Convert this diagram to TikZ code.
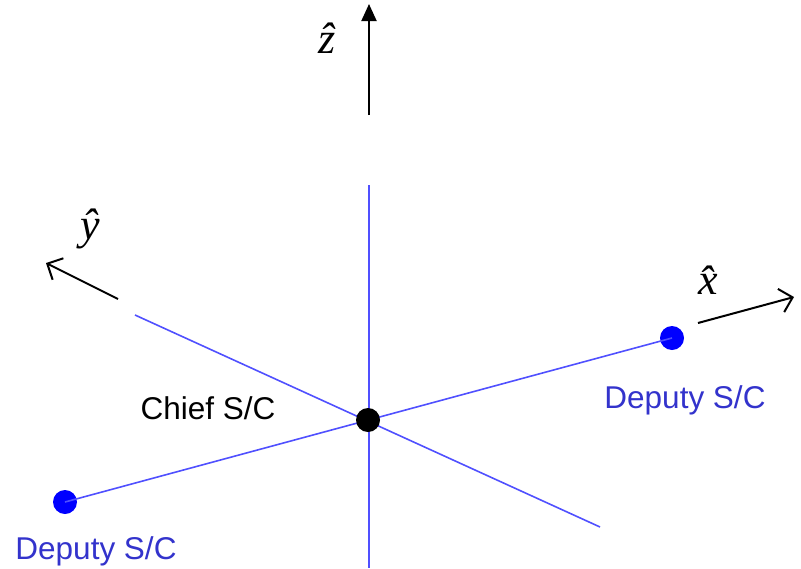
\documentclass[tikz,border=0pt]{standalone}
\usepackage{fontspec}
\setmainfont{Liberation Serif}
\setsansfont{Liberation Sans}
\usetikzlibrary{arrows.meta}
\definecolor{axisblue}{RGB}{80,80,255}
\definecolor{labelblue}{RGB}{51,51,204}
\tikzset{
  axisline/.style={draw=axisblue, line width=1.6pt},
  craft/.style={circle, inner sep=0pt, minimum size=24pt},
  unitvec/.style={draw=black, line width=2pt},
  openhead/.style={-{Straight Barb[length=12pt,width=24pt,line width=2pt]}},
  hatlabel/.style={font=\rmfamily\itshape\fontsize{44}{44}\selectfont, inner sep=0pt},
  sclabel/.style={font=\sffamily\fontsize{31.5}{31.5}\selectfont},
}
\begin{document}
\begin{tikzpicture}[x=1pt, y=-1pt]
  \useasboundingbox (0,0) rectangle (801,568);

  % spacecraft positions
  \coordinate (chiefpos) at (368,420);
  \coordinate (zlow) at (369,185);
  \coordinate (zbottom) at (369,568);
  \coordinate (ystart) at (135,315);
  \coordinate (yend) at (600,527);

  % blue axis lines through the chief
  \draw[axisline] (zlow) -- (zbottom);
  \draw[axisline] (ystart) -- (yend);
  \node[craft, fill=blue] (depR) at (672,338) {};
  \node[craft, fill=blue] (depL) at (65,502) {};
  \draw[axisline] (depL.center) -- (depR.center);
  \node[craft, fill=black] (chief) at (chiefpos) {};

  % unit vectors
  \coordinate (zbase) at (369,115);
  \coordinate (ztip) at (369,4);
  \draw[unitvec, -{Triangle[length=17pt,width=15pt]}] (zbase) -- (ztip);
  \coordinate (xbase) at (698,323);
  \coordinate (xtip) at (794,297);
  \draw[unitvec, openhead] (xbase) -- (xtip);
  \coordinate (ybase) at (118,299);
  \coordinate (ytip) at (46,263);
  \draw[unitvec, openhead] (ybase) -- (ytip);

  % vector labels
  \node[hatlabel] (zlab) at (327,38) {\^z};
  \node[hatlabel] (xlab) at (708,280) {\^x};
  \node[hatlabel] (ylab) at (90,229) {\^y};

  % spacecraft labels
  \node[sclabel, text=black] (chieflab) at (208,408) {Chief S/C};
  \node[sclabel, text=labelblue] (deplabR) at (685,400) {Deputy S/C};
  \node[sclabel, text=labelblue] (deplabL) at (96,551) {Deputy S/C};
\end{tikzpicture}
\end{document}
